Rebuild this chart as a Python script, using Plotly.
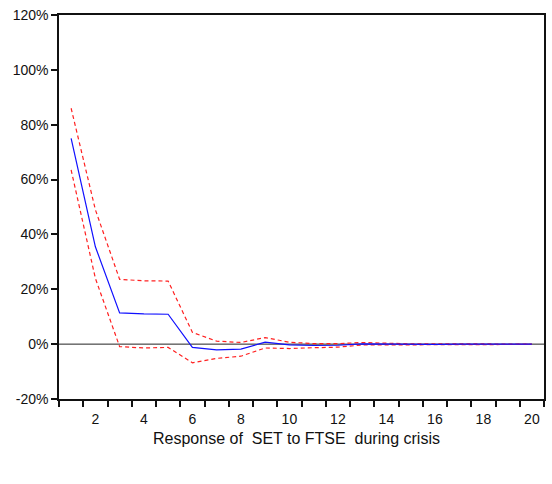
import plotly.graph_objects as go

# Impulse response of SET to an FTSE shock during the crisis period
periods = list(range(1, 21))
response = [0.75, 0.355, 0.114, 0.110, 0.109, -0.012, -0.021, -0.018, 0.007, -0.003,
            -0.005, -0.004, 0.001, 0.0, -0.001, -0.001, 0.0, 0.0, 0.0, 0.0]
upper_band = [0.86, 0.49, 0.236, 0.231, 0.230, 0.043, 0.011, 0.006, 0.024, 0.007,
              0.002, 0.002, 0.006, 0.003, 0.001, 0.001, 0.002, 0.001, 0.0, 0.0]
lower_band = [0.635, 0.24, -0.009, -0.014, -0.012, -0.068, -0.052, -0.044, -0.014, -0.016,
              -0.013, -0.011, -0.003, -0.003, -0.002, -0.002, -0.001, -0.001, -0.001, -0.001]

y_ticks = [-0.2, 0.0, 0.2, 0.4, 0.6, 0.8, 1.0, 1.2]
y_tick_labels = ["-20%", "0%", "20%", "40%", "60%", "80%", "100%", "120%"]
x_ticks = [2, 4, 6, 8, 10, 12, 14, 16, 18, 20]

font_family = "Liberation Sans, Arial, sans-serif"

W, H = 552, 484
M_L, M_R, M_T, M_B = 59, 6, 15, 85
plot_w = W - M_L - M_R
plot_h = H - M_T - M_B

fig = go.Figure()

# zero reference line across the full width
fig.add_trace(go.Scatter(x=[0.5, 20.5], y=[0, 0], mode="lines",
                         line=dict(color="#222222", width=1), hoverinfo="skip",
                         showlegend=False))

fig.add_trace(go.Scatter(x=periods, y=upper_band, mode="lines",
                         line=dict(color="#ff2020", width=1.2, dash="4px,3px"),
                         showlegend=False))
fig.add_trace(go.Scatter(x=periods, y=lower_band, mode="lines",
                         line=dict(color="#ff2020", width=1.2, dash="4px,3px"),
                         showlegend=False))
fig.add_trace(go.Scatter(x=periods, y=response, mode="lines",
                         line=dict(color="#1010ff", width=1.2),
                         showlegend=False))

# invisible trace to activate the tick-only axis
fig.add_trace(go.Scatter(x=[1], y=[0], xaxis="x2", mode="markers",
                         marker=dict(opacity=0), hoverinfo="skip", showlegend=False))

fig.update_layout(
    width=W, height=H,
    margin=dict(l=M_L, r=M_R, t=M_T, b=M_B),
    paper_bgcolor="white", plot_bgcolor="white",
    font=dict(family=font_family, size=14, color="#111111"),
    xaxis=dict(range=[0.5, 20.5], tickmode="array", tickvals=x_ticks,
               ticktext=[str(v) for v in x_ticks],
               showgrid=False, zeroline=False, showline=True, mirror=True,
               linecolor="#111111", linewidth=1.5, ticks="", ticklabelstandoff=6),
    xaxis2=dict(range=[0.5, 20.5], overlaying="x", tickmode="array",
                tickvals=[i + 0.5 for i in range(0, 21)], showticklabels=False,
                ticks="outside", ticklen=7, tickcolor="#111111", tickwidth=1.5,
                showgrid=False, zeroline=False, showline=False, anchor="y"),
    yaxis=dict(range=[-0.2, 1.2], tickmode="array", tickvals=y_ticks,
               ticktext=y_tick_labels, showgrid=False, zeroline=False,
               showline=True, mirror=True, linecolor="#111111", linewidth=1.5,
               ticks="outside", ticklen=6, tickcolor="#111111", tickwidth=1.5),
    annotations=[dict(text="Response of\u00a0 SET to FTSE\u00a0 during crisis",
                      x=(297 - M_L) / plot_w, y=(H - M_B - 438) / plot_h,
                      xref="paper", yref="paper", xanchor="center", yanchor="middle",
                      showarrow=False,
                      font=dict(size=16, family=font_family, color="#111111"))],
)

fig.write_html("out.html")
